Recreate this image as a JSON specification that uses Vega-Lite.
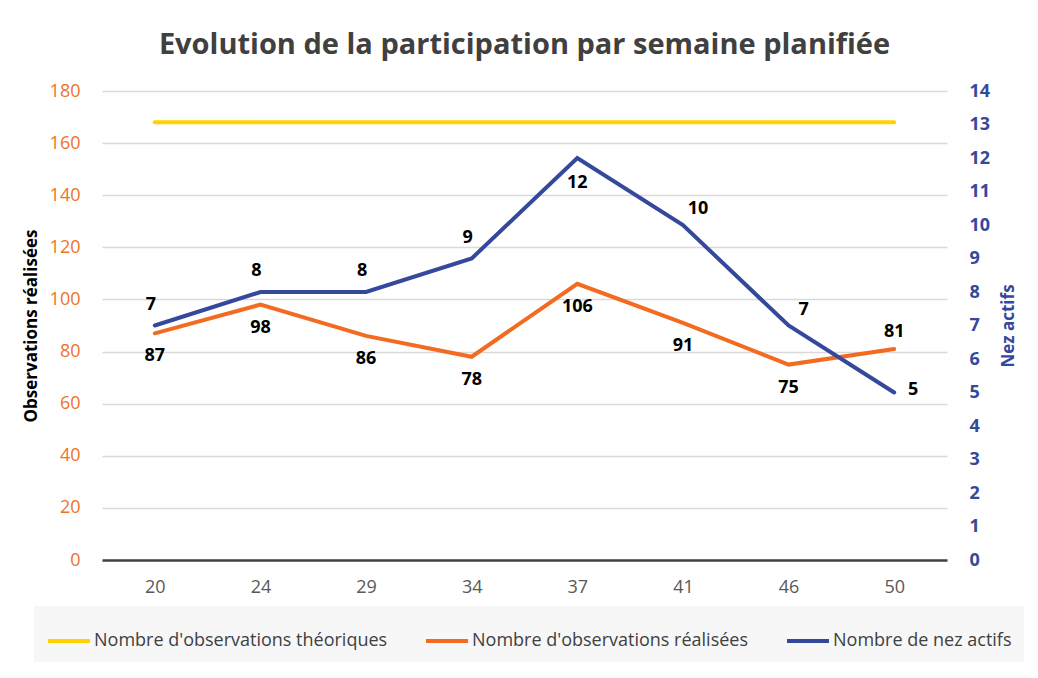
{
  "$schema": "https://vega.github.io/schema/vega-lite/v6.json",
  "width": 845,
  "height": 469,
  "autosize": {"type": "none"},
  "padding": {"left": 102, "top": 91, "right": 91, "bottom": 118},
  "background": "white",
  "title": {
    "text": "Evolution de la participation par semaine planifiée",
    "font": "Open Sans",
    "fontSize": 29,
    "fontWeight": "bold",
    "color": "#404040",
    "anchor": "middle",
    "offset": 22
  },
  "config": {
    "font": "Open Sans",
    "view": {"stroke": null}
  },
  "data": {
    "values": [
      {"week": "20", "theo": 168, "obs": 87, "nez": 7},
      {"week": "24", "theo": 168, "obs": 98, "nez": 8},
      {"week": "29", "theo": 168, "obs": 86, "nez": 8},
      {"week": "34", "theo": 168, "obs": 78, "nez": 9},
      {"week": "37", "theo": 168, "obs": 106, "nez": 12},
      {"week": "41", "theo": 168, "obs": 91, "nez": 10},
      {"week": "46", "theo": 168, "obs": 75, "nez": 7},
      {"week": "50", "theo": 168, "obs": 81, "nez": 5}
    ]
  },
  "encoding": {
    "x": {
      "field": "week",
      "type": "ordinal",
      "sort": null,
      "scale": {"type": "point", "padding": 0.5},
      "axis": {
        "title": null,
        "labelAngle": 0,
        "labelColor": "#595959",
        "labelFontSize": 18,
        "labelPadding": 18,
        "ticks": false,
        "domain": true,
        "domainColor": "#404040",
        "domainWidth": 2.5,
        "grid": false
      }
    }
  },
  "layer": [
    {
      "layer": [
        {
          "transform": [{"fold": ["theo", "obs"], "as": ["serie", "val"]}],
          "mark": {"type": "line", "strokeWidth": 4, "strokeCap": "round", "strokeJoin": "miter"},
          "encoding": {
            "y": {
              "field": "val",
              "type": "quantitative",
              "scale": {"domain": [0, 180], "nice": false},
              "axis": {
                "values": [0, 20, 40, 60, 80, 100, 120, 140, 160, 180],
                "labelOverlap": false,
                "title": "Observations réalisées",
                "titleColor": "#000000",
                "titleFontSize": 17,
                "titleFontWeight": "bold",
                "titlePadding": 9,
                "labelColor": "#EE7328",
                "labelFontSize": 18,
                "labelPadding": 22,
                "ticks": false,
                "domain": false,
                "grid": true,
                "gridColor": "#d9d9d9",
                "gridWidth": 1.5
              }
            },
            "color": {
              "field": "serie",
              "type": "nominal",
              "scale": {"domain": ["theo", "obs", "nez"], "range": ["#FFD200", "#F26B21", "#34499B"]},
              "legend": {
                "orient": "none",
                "legendX": -68,
                "legendY": 515,
                "direction": "horizontal",
                "title": null,
                "fillColor": "#f7f7f7",
                "padding": 12,
                "symbolType": "stroke",
                "symbolStrokeWidth": 4,
                "symbolSize": 1764,
                "labelFontSize": 18,
                "labelColor": "#404040",
                "labelOffset": 2,
                "labelLimit": 0,
                "columnPadding": 30,
                "labelExpr": "datum.label == 'theo' ? \"Nombre d'observations théoriques\" : datum.label == 'obs' ? \"Nombre d'observations réalisées\" : 'Nombre de nez actifs'"
              }
            }
          }
        },
        {
          "transform": [{"filter": "datum.week != '50'"}],
          "mark": {"type": "text", "fontSize": 18, "fontWeight": "bold", "color": "#000000", "dy": 23},
          "encoding": {
            "y": {"field": "obs", "type": "quantitative"},
            "text": {"field": "obs", "type": "quantitative"}
          }
        },
        {
          "transform": [{"filter": "datum.week == '50'"}],
          "mark": {"type": "text", "fontSize": 18, "fontWeight": "bold", "color": "#000000", "dy": -17},
          "encoding": {
            "y": {"field": "obs", "type": "quantitative"},
            "text": {"field": "obs", "type": "quantitative"}
          }
        }
      ]
    },
    {
      "encoding": {
        "y": {
          "field": "nez",
          "type": "quantitative",
          "scale": {"domain": [0, 14], "nice": false},
          "axis": {
            "orient": "right",
            "values": [0, 1, 2, 3, 4, 5, 6, 7, 8, 9, 10, 11, 12, 13, 14],
            "labelOverlap": false,
            "title": "Nez actifs",
            "titleAngle": 270,
            "titleColor": "#34499B",
            "titleFontSize": 17,
            "titleFontWeight": "bold",
            "titlePadding": 28,
            "labelColor": "#34499B",
            "labelFontSize": 18,
            "labelFontWeight": "bold",
            "labelPadding": 22,
            "ticks": false,
            "domain": false,
            "grid": false
          }
        }
      },
      "layer": [
        {
          "transform": [{"fold": ["nez"], "as": ["serie", "val2"]}],
          "mark": {"type": "line", "strokeWidth": 4, "strokeCap": "round", "strokeJoin": "miter"},
          "encoding": {
            "color": {"field": "serie", "type": "nominal"}
          }
        },
        {
          "transform": [{"filter": "indexof(['20','24','29','34'], datum.week) >= 0"}],
          "mark": {"type": "text", "fontSize": 18, "fontWeight": "bold", "color": "#000000", "dy": -21, "dx": -4},
          "encoding": {
            "text": {"field": "nez", "type": "quantitative"}
          }
        },
        {
          "transform": [{"filter": "datum.week == '37'"}],
          "mark": {"type": "text", "fontSize": 18, "fontWeight": "bold", "color": "#000000", "dy": 25},
          "encoding": {
            "text": {"field": "nez", "type": "quantitative"}
          }
        },
        {
          "transform": [{"filter": "datum.week == '41' || datum.week == '46'"}],
          "mark": {"type": "text", "fontSize": 18, "fontWeight": "bold", "color": "#000000", "dy": -16, "dx": 15},
          "encoding": {
            "text": {"field": "nez", "type": "quantitative"}
          }
        },
        {
          "transform": [{"filter": "datum.week == '50'"}],
          "mark": {"type": "text", "fontSize": 18, "fontWeight": "bold", "color": "#000000", "dy": -3, "dx": 19},
          "encoding": {
            "text": {"field": "nez", "type": "quantitative"}
          }
        }
      ]
    }
  ],
  "resolve": {"scale": {"y": "independent"}}
}
